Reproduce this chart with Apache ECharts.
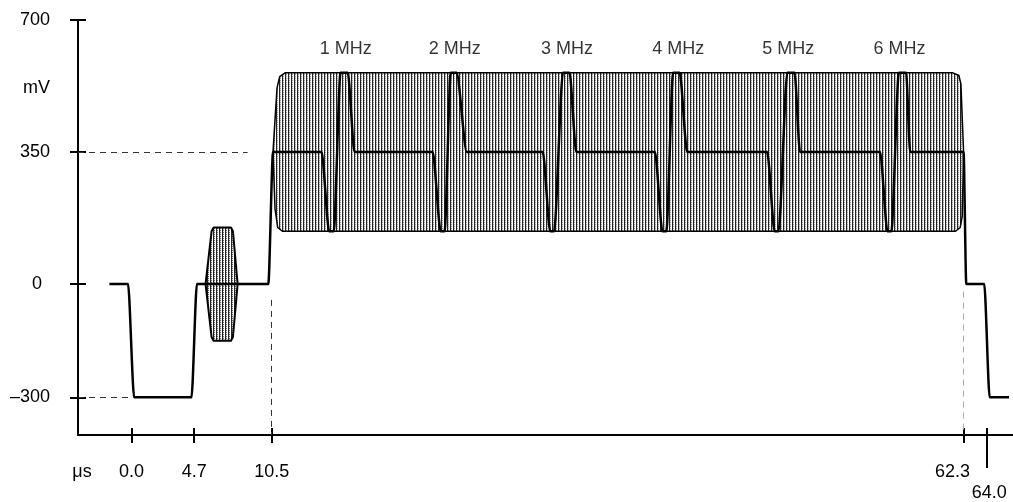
<!DOCTYPE html>
<html>
<head>
<meta charset="utf-8">
<script src="https://cdn.jsdelivr.net/npm/echarts@6/dist/echarts.min.js"></script>
<style>
  html, body { margin: 0; padding: 0; background: #fff; }
  #chart { width: 1013px; height: 502px; }
</style>
</head>
<body>
<div id="chart"></div>
<script>
// 信号波形 (µs / mV)
var traceX = [-1.65, -0.25, 0.2, 4.5, 4.9, 10.25, 10.6,
  14.24, 14.8, 15.15, 15.65, 16.2, 16.7,
  22.56, 23.15, 23.45, 23.9, 24.35, 25.1,
  30.8, 31.35, 31.65, 32.3, 32.8, 33.3,
  39.2, 39.75, 40.05, 40.55, 41.05, 41.6,
  47.6, 48.15, 48.45, 49.1, 49.65, 50.05,
  56.05, 56.6, 56.9, 57.45, 58.0, 58.3,
  62.3, 62.5, 63.85, 64.25, 65.7]
var traceY = [0, 0, -300, -300, 0, 0, 350,
  350, 140, 140, 560, 560, 350,
  350, 140, 140, 560, 560, 350,
  350, 140, 140, 560, 560, 350,
  350, 140, 140, 560, 560, 350,
  350, 140, 140, 560, 560, 350,
  350, 140, 140, 560, 560, 350,
  350, 0, 0, -300, -300]

// 多波群包络
var envX = [11.3, 10.95, 10.75, 10.6, 10.9, 11.1, 11.5, 61.5, 61.95, 62.1, 62.3, 62.2, 62.05, 61.7]
var envY = [140, 150, 200, 350, 520, 550, 560, 560, 553, 530, 350, 180, 150, 140]

// 色同步
var burstX = [5.55, 6.0, 6.15, 7.45, 7.6, 7.95, 7.6, 7.45, 6.15, 6.0]
var burstY = [0, -140, -150, -150, -140, 0, 140, 150, 150, 140]

// 标签
var mhzNames = ['1 MHz', '2 MHz', '3 MHz', '4 MHz', '5 MHz', '6 MHz']
var mhzX = [16.04, 24.21, 32.61, 40.93, 49.18, 57.5]
var mhzY = 622
var xTicks = [0, 4.7, 10.5, 62.3, 64]
var xLabels = [-3.7, 0, 4.7, 10.5, 62.3]
var yTicks = [-300, 0, 350, 700]
var yLabels = [-300, 0, 350, 521, 700]

var font = '"Liberation Sans", Arial, sans-serif'
var fs = 18

function makePattern(dense) {
  var c = document.createElement('canvas')
  c.width = 3
  c.height = 4
  var ctx = c.getContext('2d')
  ctx.fillStyle = '#ffffff'
  ctx.fillRect(0, 0, 3, 4)
  ctx.fillStyle = '#222'
  ctx.fillRect(0, 0, 1, 4)
  for (var r = 0; r < 4; r++) {
    ctx.fillStyle = r % 2 ? '#e0e0e0' : (dense ? '#666' : '#999')
    ctx.fillRect(1, r, 1, 1)
  }
  return { image: c, repeat: 'repeat' }
}

function polyRender(xs, ys, fill, lw) {
  return function (params, api) {
    if (params.dataIndex !== 0) return null
    var pts = xs.map(function (x, i) { return api.coord([x, ys[i]]) })
    return {
      type: 'polygon',
      shape: { points: pts },
      style: { fill: fill, stroke: '#000', lineWidth: lw, lineJoin: 'round' }
    }
  }
}

var tickStyle = { color: '#000', width: 2 }
var xBase = { type: 'value', min: -4, max: 66, position: 'bottom', offset: 0, splitLine: { show: false } }
var yBase = { type: 'value', min: -400, max: 700, position: 'left', offset: 0, splitLine: { show: false } }

var option = {
  animation: false,
  backgroundColor: '#fff',
  grid: { left: 78, right: 0, top: 20, bottom: 65 },
  xAxis: [
    Object.assign({}, xBase, {
      axisLine: { show: true, onZero: false, lineStyle: { color: '#000', width: 2 } },
      axisTick: { show: true, inside: false, length: 8, customValues: xTicks, lineStyle: tickStyle },
      axisLabel: {
        show: true, margin: 28, color: '#000', fontSize: fs, fontFamily: font,
        customValues: xLabels,
        formatter: function (v) {
          if (v < -1) return 'μs'
          if (v === 62.3) return '{l|62.3}'
          return v.toFixed(1)
        },
        rich: {
          l: { padding: [0, 22, 0, 0], fontSize: fs, fontFamily: font, color: '#000' }
        }
      }
    }),
    Object.assign({}, xBase, {
      axisLine: { show: false, onZero: false },
      axisTick: { show: true, inside: true, length: 7, customValues: xTicks, lineStyle: tickStyle },
      axisLabel: { show: false }
    }),
    Object.assign({}, xBase, {
      axisLine: { show: false, onZero: false },
      axisTick: { show: true, inside: false, length: 33, customValues: [64], lineStyle: tickStyle },
      axisLabel: {
        show: true, margin: 49, color: '#000', fontSize: fs, fontFamily: font,
        customValues: [64],
        formatter: function (v) { return '{r|' + v.toFixed(1) + '}' },
        rich: { r: { padding: [0, 0, 0, 6], fontSize: fs, fontFamily: font, color: '#000' } }
      }
    })
  ],
  yAxis: [
    Object.assign({}, yBase, {
      axisLine: { show: true, onZero: false, lineStyle: { color: '#000', width: 2 } },
      axisTick: { show: true, inside: false, length: 8, customValues: yTicks, lineStyle: tickStyle },
      axisLabel: {
        show: true, margin: 28, color: '#000', fontSize: fs, fontFamily: font,
        customValues: yLabels,
        formatter: function (v) {
          if (v === 521) return 'mV'
          if (v === -300) return '–300'
          if (v === 0) return '{z|0}'
          return String(v)
        },
        rich: { z: { padding: [0, 8, 0, 0], fontSize: fs, fontFamily: font, color: '#000' } }
      }
    }),
    Object.assign({}, yBase, {
      axisLine: { show: false, onZero: false },
      axisTick: { show: true, inside: true, length: 8, customValues: yTicks, lineStyle: tickStyle },
      axisLabel: { show: false }
    })
  ],
  series: [
    {
      type: 'custom',
      name: 'envelope',
      z: 1,
      data: [[envX[0], envY[0]]],
      renderItem: polyRender(envX, envY, makePattern(false), 1.5)
    },
    {
      type: 'custom',
      name: 'burst',
      z: 1,
      data: [[burstX[0], burstY[0]]],
      renderItem: polyRender(burstX, burstY, makePattern(true), 2)
    },
    {
      type: 'line',
      name: 'trace',
      z: 3,
      showSymbol: false,
      symbol: 'none',
      smooth: 0.25,
      smoothMonotone: 'x',
      lineStyle: { color: '#000', width: 2.5, join: 'round' },
      data: traceX.map(function (x, i) { return [x, traceY[i]] }),
      markLine: {
        silent: true,
        symbol: 'none',
        label: { show: false },
        lineStyle: { color: '#333', width: 1, type: [6, 5] },
        data: [
          [{ coord: [-4, 350] }, { coord: [8.7, 350] }],
          [{ coord: [-4, -300] }, { coord: [0, -300] }],
          [{ coord: [10.5, -42] }, { coord: [10.5, -400] }],
          [{ coord: [62.3, -20], lineStyle: { color: '#aaa' } }, { coord: [62.3, -400] }]
        ]
      }
    },
    {
      type: 'scatter',
      name: 'labels',
      z: 4,
      symbolSize: 0,
      silent: true,
      label: {
        show: true, position: 'inside', color: '#000', fontSize: fs, fontFamily: font,
        textBorderWidth: 0,
        formatter: function (p) { return mhzNames[p.dataIndex] }
      },
      data: mhzX.map(function (x) { return [x, mhzY] })
    }
  ]
}

var chart = echarts.init(document.getElementById('chart'))
chart.setOption(option, true)
</script>
</body>
</html>
